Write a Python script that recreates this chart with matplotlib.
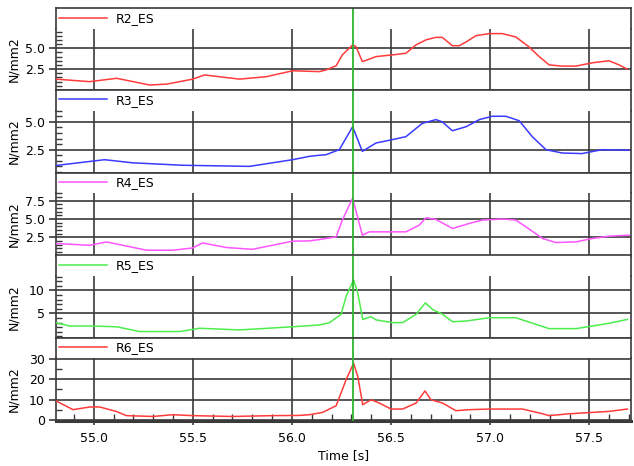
import matplotlib
matplotlib.use("Agg")
from matplotlib import pyplot as plt
from matplotlib.ticker import FixedLocator, MultipleLocator, FormatStrFormatter

W, H = 634, 466

# ---- data (time in s, stress in N/mm2) ----
t_r2 = [54.809, 54.980, 55.116, 55.282, 55.368, 55.499, 55.559, 55.736, 55.872, 56.003,
        56.139, 56.172, 56.223, 56.254, 56.306, 56.323, 56.355, 56.380, 56.424, 56.506,
        56.575, 56.626, 56.676, 56.726, 56.758, 56.809, 56.844, 56.878, 56.928, 56.995,
        57.060, 57.129, 57.196, 57.247, 57.297, 57.363, 57.432, 57.514, 57.599, 57.650, 57.690]
v_r2 = [1.3, 1.0, 1.4, 0.6, 0.7, 1.3, 1.8, 1.3, 1.6, 2.3,
        2.2, 2.4, 2.9, 4.2, 5.4, 5.2, 3.4, 3.6, 4.0, 4.2,
        4.4, 5.4, 6.0, 6.3, 6.3, 5.3, 5.3, 5.75, 6.5, 6.75,
        6.75, 6.35, 5.15, 4.0, 3.0, 2.86, 2.86, 3.25, 3.5, 3.0, 2.5]

t_r3 = [54.809, 55.055, 55.196, 55.448, 55.786, 56.003, 56.088, 56.139, 56.172, 56.239,
        56.306, 56.355, 56.424, 56.506, 56.575, 56.657, 56.726, 56.758, 56.809, 56.878,
        56.945, 57.010, 57.079, 57.146, 57.212, 57.281, 57.363, 57.463, 57.564, 57.700]
v_r3 = [1.08, 1.6, 1.32, 1.1, 1.0, 1.6, 1.9, 2.0, 2.05, 2.5,
        4.56, 2.35, 3.1, 3.4, 3.67, 4.86, 5.2, 5.0, 4.2, 4.56,
        5.2, 5.5, 5.5, 5.1, 3.67, 2.5, 2.2, 2.15, 2.5, 2.45]

t_r4 = [54.809, 54.980, 55.065, 55.267, 55.398, 55.499, 55.549, 55.670, 55.801, 56.003,
        56.088, 56.139, 56.223, 56.254, 56.306, 56.355, 56.390, 56.491, 56.575, 56.642,
        56.676, 56.726, 56.810, 56.894, 56.961, 57.062, 57.129, 57.180, 57.264, 57.331,
        57.432, 57.515, 57.599, 57.700]
v_r4 = [1.64, 1.4, 1.86, 0.72, 0.72, 1.03, 1.72, 1.09, 0.85, 1.96,
        2.0, 2.19, 2.55, 4.85, 7.84, 2.78, 3.24, 3.24, 3.24, 4.16,
        5.17, 4.94, 3.7, 4.39, 4.85, 4.99, 4.85, 3.93, 2.33, 1.78,
        1.86, 2.33, 2.64, 2.78]

t_r5 = [54.809, 54.879, 54.995, 55.116, 55.232, 55.368, 55.433, 55.534, 55.736, 56.003,
        56.139, 56.189, 56.248, 56.273, 56.311, 56.332, 56.357, 56.399, 56.424, 56.508,
        56.558, 56.626, 56.673, 56.709, 56.760, 56.810, 56.878, 56.995, 57.129, 57.230,
        57.297, 57.432, 57.515, 57.599, 57.692]
v_r5 = [3.0, 2.27, 2.27, 2.1, 1.07, 1.07, 1.07, 1.78, 1.42, 2.1,
        2.5, 3.0, 4.8, 8.7, 12.3, 9.4, 3.7, 4.3, 3.6, 3.0,
        3.0, 4.8, 7.3, 5.86, 4.8, 3.2, 3.35, 4.07, 4.07, 2.64,
        1.7, 1.7, 2.27, 2.86, 3.7]

t_r6 = [54.809, 54.896, 54.980, 55.030, 55.114, 55.165, 55.299, 55.398, 55.499, 55.700,
        55.902, 56.038, 56.088, 56.139, 56.155, 56.223, 56.273, 56.311, 56.332, 56.357,
        56.399, 56.441, 56.500, 56.558, 56.626, 56.671, 56.701, 56.760, 56.827, 56.894,
        56.995, 57.163, 57.264, 57.297, 57.398, 57.599, 57.692]
v_r6 = [9.5, 5.2, 6.5, 6.5, 4.35, 2.3, 1.9, 2.75, 2.3, 1.9,
        2.3, 2.4, 2.75, 3.6, 3.9, 7.1, 19.7, 27.7, 21.3, 7.6,
        10.0, 8.4, 5.5, 5.5, 8.4, 14.3, 10.0, 8.4, 4.7, 5.2,
        5.5, 5.5, 3.2, 2.3, 3.2, 4.35, 5.5]

names = ["R2_ES", "R3_ES", "R4_ES", "R5_ES", "R6_ES"]
colors = ["#ff3b3b", "#3b3bff", "#ff55ff", "#4ced4c", "#ff3b3b"]
series = [(t_r2, v_r2), (t_r3, v_r3), (t_r4, v_r4), (t_r5, v_r5), (t_r6, v_r6)]

ylims = [(0, 7.3), (0.45, 6.0), (0, 8.6), (-0.4, 13.2), (-0.3, 30.5)]
yticks = [[2.5, 5.0], [2.5, 5.0], [2.5, 5.0, 7.5], [5, 10], [0, 10, 20, 30]]
yfmt = ["%.1f", "%.1f", "%.1f", "%d", "%d"]
yminor = [0.5, 0.5, 0.5, 1, 5]

x_range = (54.81, 57.71)
x_major = [55.0, 55.5, 56.0, 56.5, 57.0, 57.5]
cursor_t = 56.306

# panel geometry in pixels
LEFT, RIGHT = 56, 631
panel_top = [8.3, 90, 172.5, 255.5, 338.3]
data_top = [29, 110.7, 192.7, 275.7, 357.5]
data_bot = [90, 172.5, 255.5, 338.3, 421]

GRID = "#3a3a3a"
CURSOR = "#2fb52f"


def px_rect(top, bottom):
    return [LEFT / W, 1 - bottom / H, (RIGHT - LEFT) / W, (bottom - top) / H]


def main():
    plt.rcParams["font.family"] = "DejaVu Sans"
    plt.rcParams["font.size"] = 9
    fig = plt.figure(figsize=(W / 100, H / 100), dpi=100)

    for i in range(5):
        # header strip holding the legend
        hd = fig.add_axes(px_rect(panel_top[i], data_top[i]))
        hd.set_xlim(*x_range)
        hd.set_ylim(0, 1)
        hd.set_xticks([])
        hd.set_yticks([])
        hd.spines["bottom"].set_visible(False)
        for s in hd.spines.values():
            s.set_color(GRID)
            s.set_linewidth(1.2)
        hd.axvline(cursor_t, color=CURSOR, lw=1.3)

        ax = fig.add_axes(px_rect(data_top[i], data_bot[i]))
        t, v = series[i]
        line, = ax.plot(t, v, color=colors[i], lw=1.1, label=names[i], zorder=3)
        ax.axvline(cursor_t, color=CURSOR, lw=1.3, zorder=4)

        hd.legend(handles=[line], loc="center left", bbox_to_anchor=(0.006, 0.5),
                  frameon=False, borderpad=0, borderaxespad=0,
                  handlelength=3.8, handletextpad=0.7, fontsize=9)

        ax.set_xlim(*x_range)
        ax.set_ylim(*ylims[i])
        ax.yaxis.set_major_locator(FixedLocator(yticks[i]))
        ax.yaxis.set_major_formatter(FormatStrFormatter(yfmt[i]))
        ax.yaxis.set_minor_locator(MultipleLocator(yminor[i]))
        ax.xaxis.set_major_locator(FixedLocator(x_major))
        ax.grid(True, which="major", color=GRID, lw=1.2)
        ax.spines["top"].set_visible(False)
        for s in ax.spines.values():
            s.set_color(GRID)
            s.set_linewidth(1.2)
        ax.tick_params(axis="y", which="major", direction="out", length=5,
                       width=1.2, color=GRID, pad=3, labelsize=9)
        ax.tick_params(axis="y", which="minor", direction="in", length=4,
                       width=1, color=GRID)

        if i < 4:
            ax.tick_params(axis="x", which="both", bottom=False, labelbottom=False)
        else:
            ax.xaxis.set_minor_locator(MultipleLocator(0.1))
            ax.xaxis.set_major_formatter(FormatStrFormatter("%.1f"))
            ax.tick_params(axis="x", which="major", direction="out", length=3,
                           width=1.2, color=GRID, pad=5, labelsize=9)
            ax.tick_params(axis="x", which="minor", direction="in", length=5,
                           width=1, color=GRID)
            ax.spines["bottom"].set_linewidth(2.2)
            ax.set_xlabel("Time [s]", labelpad=3, fontsize=9)

        fig.text(14 / W, 1 - (data_top[i] + data_bot[i]) / 2 / H, "N/mm2",
                 rotation=90, ha="center", va="center", fontsize=9)

    fig.savefig("out.png", dpi=100)


if __name__ == "__main__":
    main()
